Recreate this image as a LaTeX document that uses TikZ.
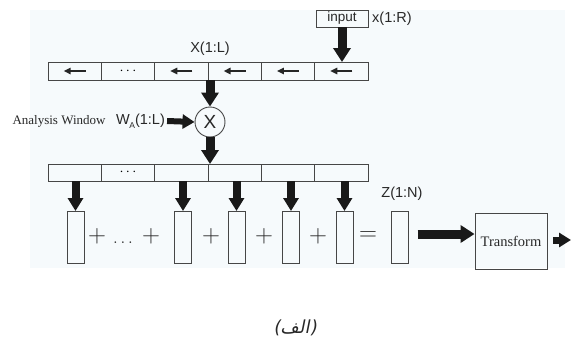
\documentclass[tikz,border=0pt]{standalone}
\usepackage{fontspec}
\setmainfont{Liberation Serif}
\setsansfont{Liberation Sans}
\newfontfamily\arabicfont[Script=Arabic,FakeSlant=0.2]{DejaVu Sans}
\TeXXeTstate=1
\usetikzlibrary{arrows.meta,calc}
\definecolor{bgtint}{RGB}{246,250,252}
\definecolor{framegray}{RGB}{70,70,70}
\definecolor{textgray}{RGB}{40,40,40}
\tikzset{
  cell/.style={draw=framegray, line width=0.9pt, minimum width=53.33pt, minimum height=18pt, inner sep=0pt, outer sep=0pt, anchor=north west},
  lowcell/.style={cell, minimum height=17pt},
  vecbox/.style={draw=framegray, line width=0.9pt, minimum width=17pt, minimum height=52pt, inner sep=0pt, outer sep=0pt},
  lbl/.style={font=\sffamily\fontsize{14.5}{15}\selectfont, text=textgray, inner sep=0pt},
  op/.style={font=\fontsize{23}{24}\selectfont, text=textgray, inner sep=0pt},
  bigarr/.style={line width=9pt, draw=black!90, -{Triangle[width=17pt,length=14pt]}},
  midarr/.style={line width=8pt, draw=black!90, -{Triangle[width=15pt,length=13pt]}},
  thinarr/.style={line width=6pt, draw=black!90, -{Triangle[width=14pt,length=12pt]}},
  shiftarr/.style={line width=1.4pt, draw=black!85, -{Triangle[width=6.5pt,length=7pt]}},
}
\begin{document}
\begin{tikzpicture}[x=1pt,y=-1pt]
  \useasboundingbox (0,0) rectangle (576,343);
  \fill[bgtint] (30,10) rectangle (565,268);

  % input buffer (shift register)
  \foreach \i in {1,...,6} {
    \node[cell] (t\i) at ({48+(\i-1)*53.33},62) {};
  }
  \node[font=\fontsize{14}{14}\selectfont] at (t2) {$\cdots$};
  \foreach \i in {1,3,4,5,6} {
    \draw[shiftarr] ([xshift=11pt]t\i.center) -- ([xshift=-11pt]t\i.center);
  }
  \node[lbl] (xl) at (210,49) {X(1:L)};

  % new input samples
  \node[draw=framegray, line width=0.9pt, minimum width=52pt, minimum height=17pt, inner sep=0pt,
        font=\sffamily\fontsize{13.5}{14}\selectfont, text=textgray] (in) at (342,18.5) {input};
  \node[lbl, anchor=west] (xr) at (372,18.5) {x(1:R)};
  \draw[bigarr] (in.south) -- (in.south |- t6.north);

  % windowing
  \node[draw=framegray, line width=0.9pt, circle, minimum size=30pt, inner sep=0pt,
        font=\sffamily\fontsize{19}{19}\selectfont, text=textgray] (mult) at (210,122) {X};
  \draw[bigarr] (mult |- t1.south) -- (mult.north);
  \node[font=\fontsize{13}{14}\selectfont, text=textgray, inner sep=0pt] (aw) at (59,121) {Analysis Window};
  \node[lbl, anchor=west] (wa) at (116,121) {W\kern-0.5pt\raisebox{-0.5ex}{\fontsize{8.5}{9}\selectfont A}(1:L)};
  \draw[thinarr] ([xshift=2pt]wa.east) -- (mult.west);

  % windowed buffer
  \foreach \i in {1,...,6} {
    \node[lowcell] (b\i) at ({48+(\i-1)*53.33},164) {};
  }
  \node[font=\fontsize{14}{14}\selectfont] at (b2) {$\cdots$};
  \draw[bigarr] (mult.south) -- (mult |- b1.north);

  % time-aliased segments
  \node[vecbox] (r1) at (75.5,237) {};
  \node[vecbox] (r2) at (183,237) {};
  \node[vecbox] (r3) at (236.5,237) {};
  \node[vecbox] (r4) at (291,237) {};
  \node[vecbox] (r5) at (344.5,237) {};
  \node[vecbox] (z) at (400,237) {};
  \foreach \i in {1,...,5} {
    \draw[midarr] (r\i |- b1.south) -- (r\i.north);
  }
  \node[op] at (97,236) {$+$};
  \node[font=\fontsize{18}{18}\selectfont, text=textgray, inner sep=0pt] at (123,243) {$\ldots$};
  \node[op] at (151,236) {$+$};
  \node[op] at (211,236) {$+$};
  \node[op] at (264,236) {$+$};
  \node[op] at (318,236) {$+$};
  \node[op] at (368,236) {$=$};
  \node[lbl] (zl) at (402,194) {Z(1:N)};

  % transform stage
  \node[draw=framegray, line width=0.9pt, minimum width=72pt, minimum height=56pt, inner sep=0pt,
        font=\fontsize{14.5}{15}\selectfont, text=textgray] (tr) at (511,241) {Transform};
  \draw[bigarr, shorten <=9pt] ([yshift=3pt]z.east) -- ([yshift=3pt]z.east -| tr.west);
  \coordinate (out) at (571,240);
  \draw[thinarr, line width=7pt, shorten <=6pt] (tr.east |- out) -- (out);

  % caption
  \node[font=\arabicfont\fontsize{18}{20}\selectfont, text=textgray] (cap) at (295,328) {\beginR(الف)\endR};
\end{tikzpicture}
\end{document}
